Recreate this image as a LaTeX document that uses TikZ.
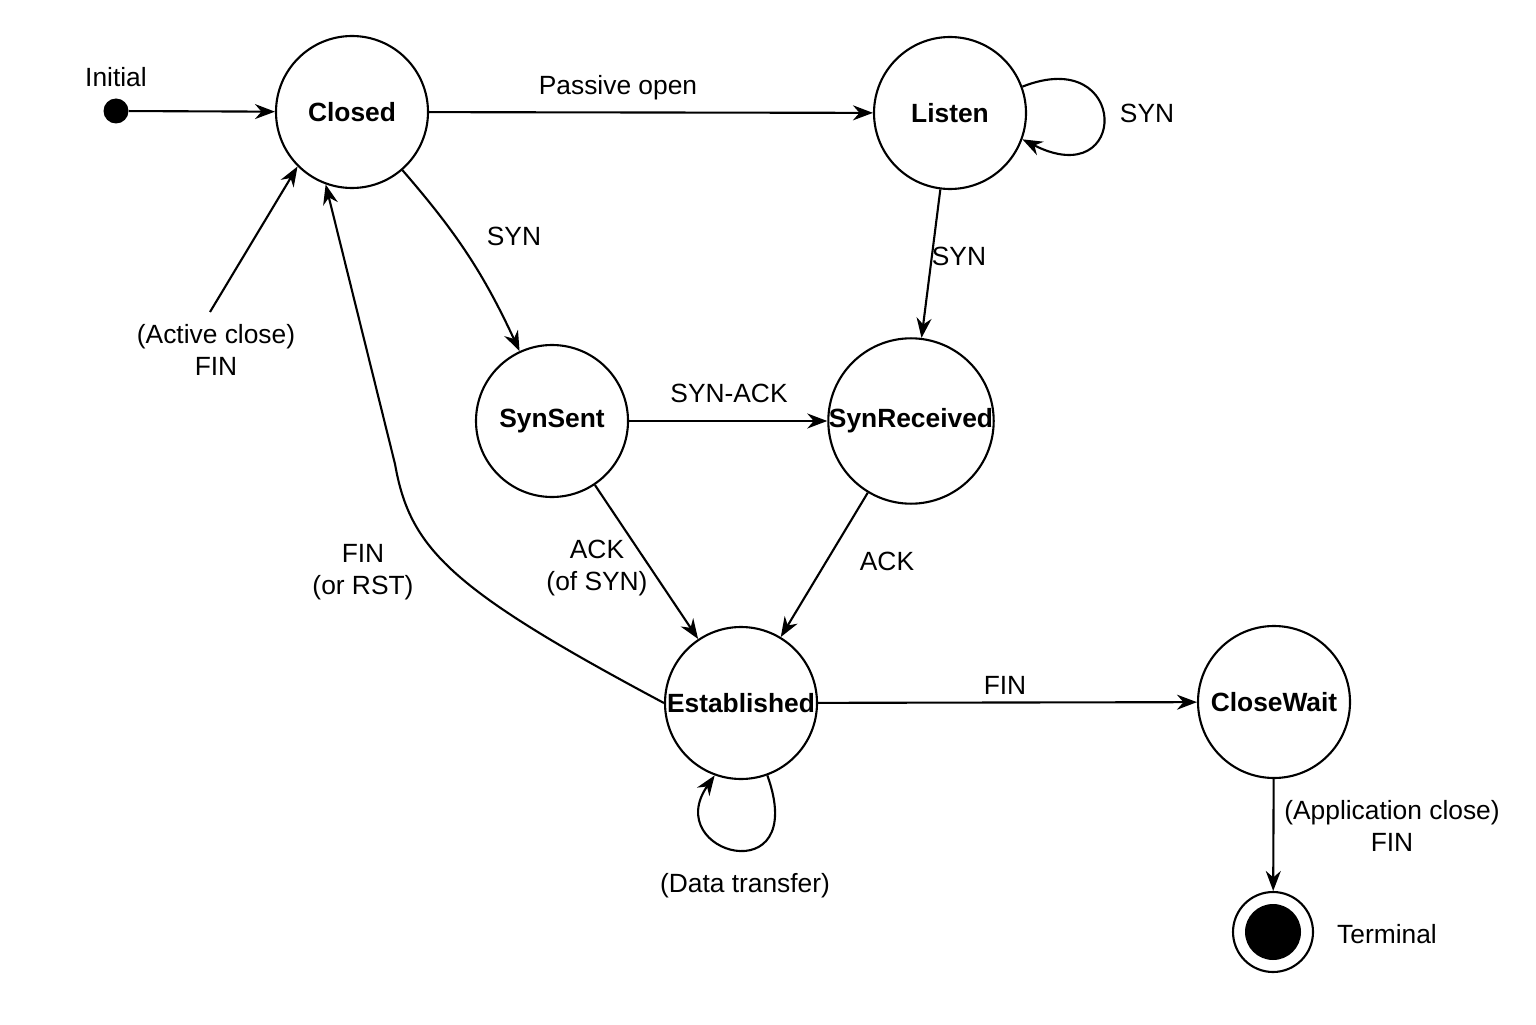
\documentclass[tikz,border=0pt]{standalone}
\usepackage{fontspec}
\setmainfont{Liberation Sans}
\usetikzlibrary{arrows.meta,positioning}
\tikzset{state/.style={draw,circle,line width=1.2pt,minimum size=3.04cm,inner sep=0pt,font=\fontsize{15}{18}\selectfont\bfseries},
trans/.style={line width=1.2pt,-{Stealth[length=4mm,width=3mm]}},
lbl/.style={font=\fontsize{15}{18}\selectfont,align=center}}
\begin{document}
\begin{tikzpicture}
\useasboundingbox (0,0) rectangle (30.72,20.48);

% States
\node[state] (closed) at (7.04,18.24) {Closed};
\node[state] (listen) at (19.0,18.22) {Listen};
\node[state] (synsent) at (11.04,12.06) {SynSent};
\node[state] (synrec) at (18.22,12.06) {SynReceived};
\node[state] (estab) at (14.82,6.42) {Established};
\node[state] (closewait) at (25.48,6.44) {CloseWait};

% Initial and terminal
\node[circle,fill,minimum size=0.5cm,inner sep=0pt] (init) at (2.32,18.26) {};
\node[draw,circle,line width=1.2pt,minimum size=1.6cm,inner sep=0pt] (term) at (25.46,1.84) {};
\node[circle,fill,minimum size=1.12cm,inner sep=0pt] (termdot) at (term) {};
\coordinate (activeclose) at (4.2,14.24);

% Transitions
\draw[trans] (init) -- (closed);
\draw[trans] (closed) -- (listen);
\draw[trans] (listen.20) .. controls (22.6,19.6) and (22.6,16.6) .. (listen.-20);
\draw[trans] (closed) to[bend left=8] (synsent);
\draw[trans] (listen) -- (synrec);
\draw[trans] (synsent) -- (synrec);
\draw[trans] (synsent) -- (estab);
\draw[trans] (synrec) -- (estab);
\draw[trans] (estab.west) .. controls (9.0,8.7) and (8.2,9.5) .. (7.9,11.2) -- (closed.-110);
\draw[trans] (activeclose) -- (closed.-135);
\draw[trans] (estab) -- (closewait);
\draw[trans] (estab.-70) .. controls (16.2,2.6) and (13.2,3.4) .. (estab.-110);
\draw[trans] (closewait) -- (term);

% Labels
\node[lbl] at (2.32,18.94) {Initial};
\node[lbl] at (12.36,18.72) {Passive open};
\node[lbl] at (22.94,18.22) {SYN};
\node[lbl] at (10.28,15.76) {SYN};
\node[lbl] at (19.18,15.36) {SYN};
\node[lbl] at (14.58,12.62) {SYN-ACK};
\node[lbl] at (11.94,9.12) {ACK\\(of SYN)};
\node[lbl] at (17.74,9.26) {ACK};
\node[lbl] at (7.26,9.04) {FIN\\(or RST)};
\node[lbl] at (4.32,13.48) {(Active close)\\FIN};
\node[lbl] at (20.1,6.78) {FIN};
\node[lbl] at (14.9,2.76) {(Data transfer)};
\node[lbl] at (27.84,3.96) {(Application close)\\FIN};
\node[lbl,anchor=west] at (26.62,1.8) {Terminal};
\end{tikzpicture}
\end{document}
